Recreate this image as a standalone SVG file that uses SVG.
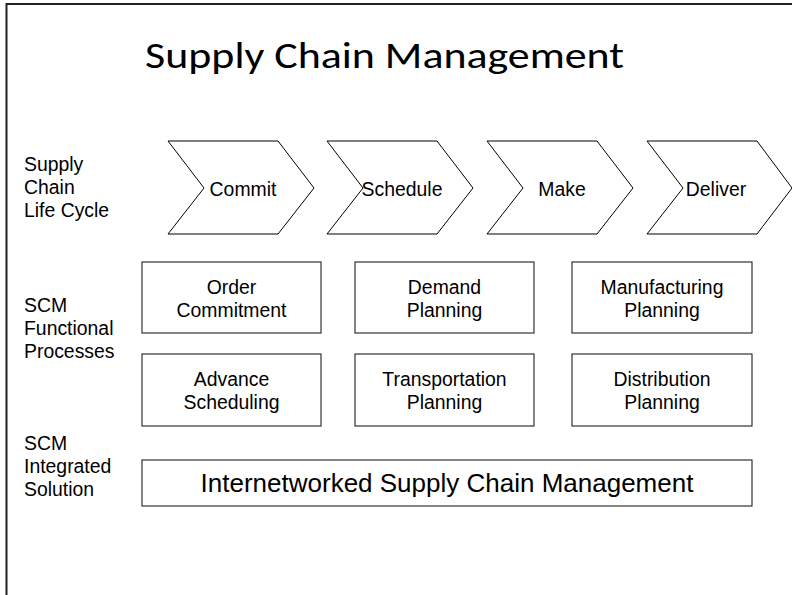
<svg xmlns="http://www.w3.org/2000/svg" width="792" height="595" viewBox="0 0 792 595">
<style>
  .lbl { font-family: "Liberation Sans", Arial, sans-serif; font-size: 19.4px; fill: #000; }
  .ctr { text-anchor: middle; }
  .shape { fill: #fff; stroke: #000; stroke-width: 1; }
  .box { fill: #fff; stroke: #333; stroke-width: 1.2; }
  .title { font-family: Calibri, Carlito, "Noto Sans", "Open Sans", sans-serif; font-size: 37px; fill: #000; }
  .big { font-family: "Liberation Sans", Arial, sans-serif; font-size: 26px; fill: #000; }
</style>
<rect x="0" y="0" width="792" height="595" fill="#fff"/>
<g id="frame">
  <path d="M6.5,595 L6.5,4 L792,4" fill="none" stroke="#222" stroke-width="2"/>
</g>
<g id="title">
  <text class="title" x="145" y="68" textLength="479" lengthAdjust="spacingAndGlyphs">Supply Chain Management</text>
</g>
<g id="row-labels">
  <text class="lbl" x="24"><tspan x="24" y="171">Supply</tspan><tspan x="24" y="194">Chain</tspan><tspan x="24" y="217">Life Cycle</tspan></text>
  <text class="lbl" x="24"><tspan x="24" y="312">SCM</tspan><tspan x="24" y="335">Functional</tspan><tspan x="24" y="358">Processes</tspan></text>
  <text class="lbl" x="24"><tspan x="24" y="450">SCM</tspan><tspan x="24" y="473">Integrated</tspan><tspan x="24" y="496">Solution</tspan></text>
</g>
<g id="commit">
  <path class="shape" d="M168,141 L278,141 L314,188 L278,234 L168,234 L204,188 Z"/>
  <text class="lbl ctr" x="243" y="196">Commit</text>
</g>
<g id="schedule">
  <path class="shape" d="M327,141 L437,141 L473,188 L437,234 L327,234 L363,188 Z"/>
  <text class="lbl ctr" x="402" y="196">Schedule</text>
</g>
<g id="make">
  <path class="shape" d="M487,141 L597,141 L633,188 L597,234 L487,234 L523,188 Z"/>
  <text class="lbl ctr" x="562" y="196">Make</text>
</g>
<g id="deliver">
  <path class="shape" d="M647,141 L757,141 L792,188 L757,234 L647,234 L683,188 Z"/>
  <text class="lbl ctr" x="716" y="196">Deliver</text>
</g>
<g id="order-commitment">
  <rect class="box" x="142" y="262" width="179" height="71"/>
  <text class="lbl ctr" x="231.5"><tspan x="231.5" y="294">Order</tspan><tspan x="231.5" y="317">Commitment</tspan></text>
</g>
<g id="demand-planning">
  <rect class="box" x="355" y="262" width="179" height="71"/>
  <text class="lbl ctr" x="444.5"><tspan x="444.5" y="294">Demand</tspan><tspan x="444.5" y="317">Planning</tspan></text>
</g>
<g id="manufacturing-planning">
  <rect class="box" x="572" y="262" width="180" height="71"/>
  <text class="lbl ctr" x="662"><tspan x="662" y="294">Manufacturing</tspan><tspan x="662" y="317">Planning</tspan></text>
</g>
<g id="advance-scheduling">
  <rect class="box" x="142" y="354" width="179" height="72"/>
  <text class="lbl ctr" x="231.5"><tspan x="231.5" y="386">Advance</tspan><tspan x="231.5" y="409">Scheduling</tspan></text>
</g>
<g id="transportation-planning">
  <rect class="box" x="355" y="354" width="179" height="72"/>
  <text class="lbl ctr" x="444.5"><tspan x="444.5" y="386">Transportation</tspan><tspan x="444.5" y="409">Planning</tspan></text>
</g>
<g id="distribution-planning">
  <rect class="box" x="572" y="354" width="180" height="72"/>
  <text class="lbl ctr" x="662"><tspan x="662" y="386">Distribution</tspan><tspan x="662" y="409">Planning</tspan></text>
</g>
<g id="integrated-solution">
  <rect class="box" x="142" y="460" width="610" height="46"/>
  <text class="big ctr" x="447" y="492">Internetworked Supply Chain Management</text>
</g>
</svg>
